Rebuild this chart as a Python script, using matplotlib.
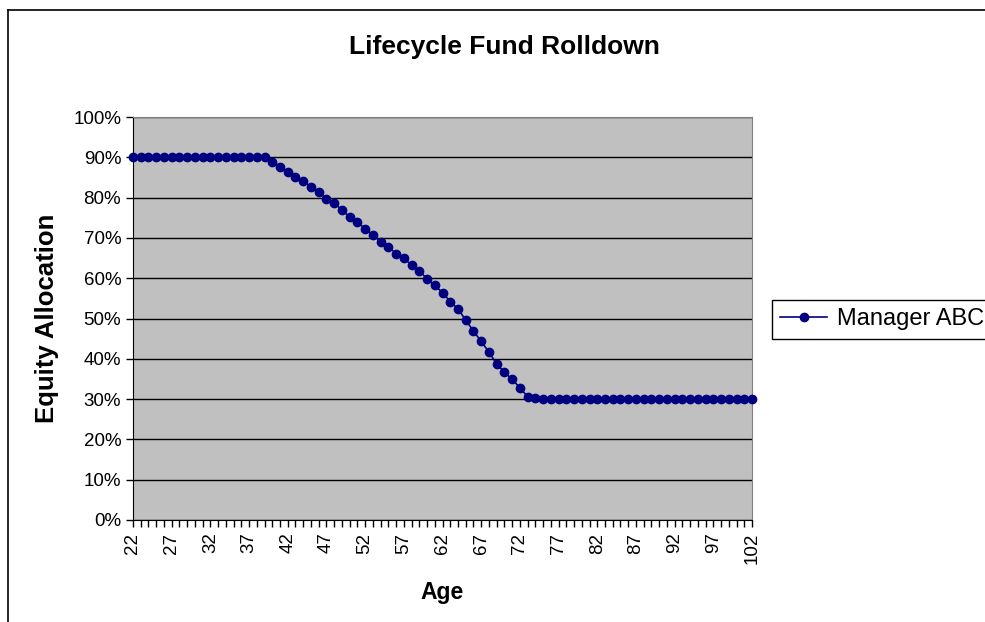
import matplotlib
matplotlib.use('Agg')
import matplotlib.pyplot as plt
from matplotlib.lines import Line2D

plt.rcParams['font.family'] = ['Liberation Sans', 'DejaVu Sans']

# data
ages = list(range(22, 103))
equity = ([90.0] * 18 +
          [88.9, 87.7, 86.4, 85.1, 84.2, 82.6, 81.4, 79.7, 78.7, 76.9,
           75.2, 74.0, 72.2, 70.8, 69.1, 67.8, 66.1, 64.9, 63.3, 61.9,
           59.8, 58.2, 56.4, 54.2, 52.4, 49.6, 46.9, 44.3, 41.7, 38.7,
           36.7, 34.9, 32.8, 30.6, 30.2] +
          [30.0] * 28)
series_name = 'Manager ABC'
y_ticks = list(range(0, 101, 10))
x_labels = list(range(22, 103, 5))

W, H = 985, 622
fig = plt.figure(figsize=(W / 100, H / 100), dpi=100)
ax = fig.add_axes([133 / W, 1 - 520 / H, (752 - 133) / W, (520 - 117) / H])

ax.set_facecolor('#C0C0C0')
ax.plot(ages, equity, color='#000080', lw=1.2, marker='o', markersize=6,
        markerfacecolor='#000080', markeredgecolor='#000080', clip_on=False,
        zorder=3, label=series_name)

ax.set_xlim(22, 102)
ax.set_ylim(0, 100)
ax.set_yticks(y_ticks)
ax.set_yticklabels([f'{v}%' for v in y_ticks])
ax.yaxis.grid(True, color='black', lw=1)
ax.set_axisbelow(True)

ax.set_xticks(x_labels)
ax.set_xticklabels([str(v) for v in x_labels], rotation=90)
ax.set_xticks(ages, minor=True)
ax.tick_params(axis='both', which='both', direction='out', length=5,
               width=1, color='black', labelsize=13.5)
ax.tick_params(axis='x', which='major', pad=4)

for s in ['top', 'right']:
    ax.spines[s].set_color('#808080')
for s in ['left', 'bottom']:
    ax.spines[s].set_color('black')

ax.set_xlabel('Age', fontsize=16.5, fontweight='bold', labelpad=12)
ax.set_ylabel('Equity Allocation', fontsize=18.5, fontweight='bold', labelpad=10)
fig.text(504 / W, 1 - 47 / H, 'Lifecycle Fund Rolldown', fontsize=19,
         fontweight='bold', ha='center', va='center')

leg = fig.legend(loc='upper left', bbox_to_anchor=(772 / W, 1 - 300 / H),
                 borderaxespad=0, fontsize=17, fancybox=False,
                 edgecolor='black', framealpha=1, handlelength=2.0,
                 borderpad=0.35, handletextpad=0.4)
leg.get_frame().set_linewidth(1)

# chart area border
fig.add_artist(Line2D([8 / W, 1], [1 - 10 / H, 1 - 10 / H], color='black', lw=1.2))
fig.add_artist(Line2D([8 / W, 8 / W], [0, 1 - 10 / H], color='black', lw=1.2))

fig.savefig('out.png', dpi=100)
